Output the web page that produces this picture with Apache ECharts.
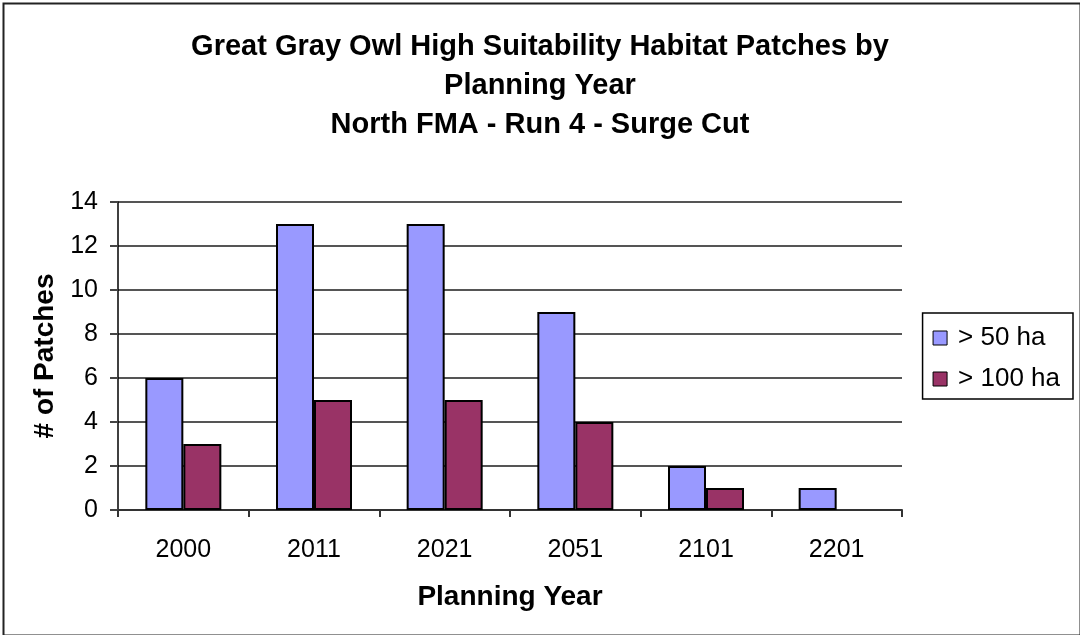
<!DOCTYPE html>
<html>
<head>
<meta charset="utf-8">
<script src="https://cdn.jsdelivr.net/npm/echarts@6/dist/echarts.min.js"></script>
<style>
html,body{margin:0;padding:0;background:#fff;}
#c{width:1080px;height:635px;}
</style>
</head>
<body>
<div id="c"></div>
<script>
const categories = ['2000','2011','2021','2051','2101','2201'];
const over50 = [6, 13, 13, 9, 2, 1];
const over100 = [3, 5, 5, 4, 1, 0];
const seriesNames = ['> 50 ha', '> 100 ha'];

// zero-height bars are not drawn in the original
const noZero = arr => arr.map(v => (v === 0 ? null : v));

const chart = echarts.init(document.getElementById('c'));
const font = 'Liberation Sans, Arial, sans-serif';
chart.setOption({
  animation: false,
  backgroundColor: '#fff',
  graphic: [{
    type: 'rect', left: 1, top: 1,
    shape: {width: 1077, height: 632},
    style: {fill: 'none', stroke: '#222', lineWidth: 2}
  }],
  title: {
    text: 'Great Gray Owl High Suitability Habitat Patches by\nPlanning Year\nNorth FMA - Run 4 - Surge Cut',
    left: 'center', top: 22,
    textStyle: {fontFamily: font, fontSize: 29, fontWeight: 'bold', color: '#000', lineHeight: 39}
  },
  legend: {
    orient: 'vertical', right: 7, top: 313,
    data: seriesNames,
    icon: 'rect', itemWidth: 14, itemHeight: 14, itemGap: 15,
    padding: [12, 13, 7, 10],
    borderColor: '#000', borderWidth: 1.5,
    textStyle: {fontFamily: font, fontSize: 26, color: '#000', padding: [0, 0, 0, 6]},
    itemStyle: {borderColor: '#000', borderWidth: 1}
  },
  grid: {left: 118, right: 178, top: 202, bottom: 125},
  xAxis: {
    type: 'category', data: categories,
    name: 'Planning Year', nameLocation: 'middle', nameGap: 73,
    nameTextStyle: {fontFamily: font, fontSize: 28, fontWeight: 'bold', color: '#000'},
    axisLine: {lineStyle: {color: '#333', width: 2}},
    axisTick: {show: true, length: 7, lineStyle: {color: '#333', width: 2}},
    axisLabel: {fontFamily: font, fontSize: 25, color: '#000', margin: 28}
  },
  yAxis: {
    type: 'value', min: 0, max: 14, interval: 2,
    name: '# of Patches', nameLocation: 'middle', nameGap: 56,
    nameTextStyle: {fontFamily: font, fontSize: 28, fontWeight: 'bold', color: '#000'},
    axisLine: {show: true, lineStyle: {color: '#000', width: 1.5}},
    axisTick: {show: true, length: 8, lineStyle: {color: '#444', width: 2}},
    axisLabel: {fontFamily: font, fontSize: 25, color: '#000', margin: 20},
    splitLine: {lineStyle: {color: '#555', width: 2}}
  },
  series: [
    {name: seriesNames[0], type: 'bar', data: noZero(over50), barWidth: 38, barGap: '0%',
     itemStyle: {color: '#9999FF', borderColor: '#000', borderWidth: 2}},
    {name: seriesNames[1], type: 'bar', data: noZero(over100), barWidth: 38,
     itemStyle: {color: '#993366', borderColor: '#000', borderWidth: 2}}
  ]
});
</script>
</body>
</html>
